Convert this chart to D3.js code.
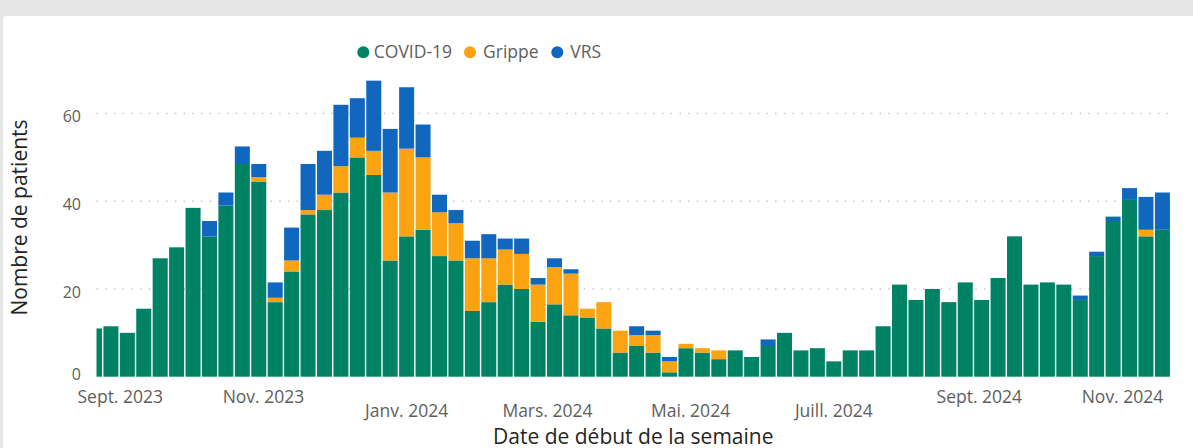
<!DOCTYPE html>
<html>
<head>
<meta charset="utf-8">
<script src="https://cdn.jsdelivr.net/npm/d3@7"></script>
<style>
  html, body { margin: 0; padding: 0; background: #e6e6e6; }
  svg { display: block; font-family: "Open Sans", "Noto Sans", sans-serif; }
</style>
</head>
<body>
<svg id="chart" width="1193" height="448"></svg>
<script>
// --- Données ---
const weekStarts = [
  "2023-08-21","2023-08-28","2023-09-04","2023-09-11","2023-09-18","2023-09-25",
  "2023-10-02","2023-10-09","2023-10-16","2023-10-23","2023-10-30","2023-11-06",
  "2023-11-13","2023-11-20","2023-11-27","2023-12-04","2023-12-11","2023-12-18",
  "2023-12-25","2024-01-01","2024-01-08","2024-01-15","2024-01-22","2024-01-29",
  "2024-02-05","2024-02-12","2024-02-19","2024-02-26","2024-03-04","2024-03-11",
  "2024-03-18","2024-03-25","2024-04-01","2024-04-08","2024-04-15","2024-04-22",
  "2024-04-29","2024-05-06","2024-05-13","2024-05-20","2024-05-27","2024-06-03",
  "2024-06-10","2024-06-17","2024-06-24","2024-07-01","2024-07-08","2024-07-15",
  "2024-07-22","2024-07-29","2024-08-05","2024-08-12","2024-08-19","2024-08-26",
  "2024-09-02","2024-09-09","2024-09-16","2024-09-23","2024-09-30","2024-10-07",
  "2024-10-14","2024-10-21","2024-10-28","2024-11-04","2024-11-11","2024-11-18"
];

const covid = [11, 11.5, 10, 15.5, 27, 29.5, 38.5, 32, 39, 48.5,
  44.5, 17, 24, 37, 38, 42, 50, 46, 26.5, 32,
  33.5, 27.5, 26.5, 15, 17, 21, 20, 12.5, 16.5, 14,
  13.5, 11, 5.5, 7, 5.5, 1, 6.5, 5.5, 4, 6,
  4.5, 7, 10, 6, 6.5, 3.5, 6, 6, 11.5, 21,
  17.5, 20, 17, 21.5, 17.5, 22.5, 32, 21, 21.5, 21,
  17.5, 27.5, 35.5, 40.5, 32, 33.5];

const grippe = [0, 0, 0, 0, 0, 0, 0, 0, 0, 0,
  1, 1, 2.5, 1, 3.5, 6, 4.5, 5.5, 15.5, 20,
  16.5, 10, 8.5, 12, 10, 8, 8, 8.5, 8.5, 9.5,
  2, 6, 5, 2.5, 4, 2.5, 1, 1, 2, 0,
  0, 0, 0, 0, 0, 0, 0, 0, 0, 0,
  0, 0, 0, 0, 0, 0, 0, 0, 0, 0,
  0, 0, 0, 0, 1.5, 0];

const vrs = [0, 0, 0, 0, 0, 0, 0, 3.5, 3, 4,
  3, 3.5, 7.5, 10.5, 10, 14, 9, 16, 14.5, 14,
  7.5, 4, 3, 4, 5.5, 2.5, 3.5, 1.5, 2, 1,
  0, 0, 0, 2, 1, 1, 0, 0, 0, 0,
  0, 1.5, 0, 0, 0, 0, 0, 0, 0, 0,
  0, 0, 0, 0, 0, 0, 0, 0, 0, 0,
  1, 1, 1, 2.5, 7.5, 8.5];

const seriesNames = ["COVID-19", "Grippe", "VRS"];
const seriesColors = ["#008264", "#FCA311", "#1167BE"];

const tickDates = ["2023-09-01","2023-11-01","2024-01-01","2024-03-01","2024-05-01","2024-07-01","2024-09-01","2024-11-01"];
const tickLabels = ["Sept. 2023","Nov. 2023","Janv. 2024","Mars. 2024","Mai. 2024","Juill. 2024","Sept. 2024","Nov. 2024"];
const yTicks = [0, 20, 40, 60];

// --- Mise en page ---
const parse = d3.timeParse("%Y-%m-%d");
const plotLeft = 96.5, plotRight = 1170;

const svg = d3.select("#chart");

// carte blanche
svg.append("rect")
    .attr("x", 3).attr("y", 16)
    .attr("width", 1193).attr("height", 440)
    .attr("rx", 3)
    .attr("fill", "#ffffff");

const rows = weekStarts.map((w, i) => ({
    date: parse(w),
    "COVID-19": covid[i],
    "Grippe": grippe[i],
    "VRS": vrs[i]
}));

const x = d3.scaleTime()
    .domain([parse(weekStarts[1]), parse(weekStarts[weekStarts.length - 1])])
    .range([110.9, 1162.4]);

const y = d3.scaleLinear()
    .domain([0, 70])
    .range([376.7, 69.7]);

const pitch = x(parse(weekStarts[2])) - x(parse(weekStarts[1]));
const barW = pitch - 1.4;

// grille pointillée
svg.append("g")
    .selectAll("line")
    .data(yTicks.filter(t => t > 0))
    .join("line")
    .attr("x1", plotLeft).attr("x2", plotRight)
    .attr("y1", d => y(d)).attr("y2", d => y(d))
    .attr("stroke", "#c8c6c4")
    .attr("stroke-width", 1.5)
    .attr("stroke-dasharray", "1.5,7.2");

// étiquettes de l'axe Y
svg.append("g")
    .selectAll("text")
    .data(yTicks)
    .join("text")
    .attr("x", 81)
    .attr("y", d => y(d) + (d === 0 ? -2 : 3))
    .attr("dy", "0.35em")
    .attr("text-anchor", "end")
    .attr("fill", "#605e5c")
    .style("font-size", "16px")
    .text(d => d);

// barres empilées
svg.append("clipPath").attr("id", "plot-clip")
    .append("rect")
    .attr("x", plotLeft).attr("y", 0)
    .attr("width", plotRight - plotLeft).attr("height", 448);

const stack = d3.stack().keys(seriesNames);
const layers = stack(rows);

svg.append("g")
    .attr("clip-path", "url(#plot-clip)")
    .selectAll("g")
    .data(layers)
    .join("g")
    .attr("fill", (d, i) => seriesColors[i])
    .selectAll("rect")
    .data(d => d.filter(p => p[1] - p[0] > 0))
    .join("rect")
    .attr("x", d => x(d.data.date) - barW / 2)
    .attr("y", d => y(d[1]))
    .attr("width", barW)
    .attr("height", d => y(d[0]) - y(d[1]));

// étiquettes de l'axe X (deux rangées comme dans l'original)
svg.append("g")
    .selectAll("text")
    .data(tickDates.map((d, i) => ({date: parse(d), label: tickLabels[i], low: i >= 2 && i <= 5})))
    .join("text")
    .attr("x", d => x(d.date))
    .attr("y", d => d.low ? 416.5 : 402.5)
    .attr("text-anchor", "middle")
    .attr("fill", "#605e5c")
    .style("font-size", "17.5px")
    .text(d => d.label);

// titres des axes
svg.append("text")
    .attr("x", (plotLeft + plotRight) / 2)
    .attr("y", 444)
    .attr("text-anchor", "middle")
    .attr("fill", "#252423")
    .style("font-size", "21px")
    .text("Date de début de la semaine");

svg.append("text")
    .attr("transform", "translate(27, 217.5) rotate(-90)")
    .attr("text-anchor", "middle")
    .attr("fill", "#252423")
    .style("font-size", "21px")
    .text("Nombre de patients");

// légende
const legendX = [363.3, 470, 557.3];
const legend = svg.append("g")
    .selectAll("g")
    .data(seriesNames)
    .join("g")
    .attr("transform", (d, i) => `translate(${legendX[i]}, 52.3)`);

legend.append("circle")
    .attr("r", 6)
    .attr("fill", (d, i) => seriesColors[i]);

legend.append("text")
    .attr("x", (d, i) => i === 0 ? 10.5 : 13)
    .attr("dy", "0.35em")
    .attr("fill", "#605e5c")
    .style("font-size", "17.5px")
    .text(d => d);
</script>
</body>
</html>
